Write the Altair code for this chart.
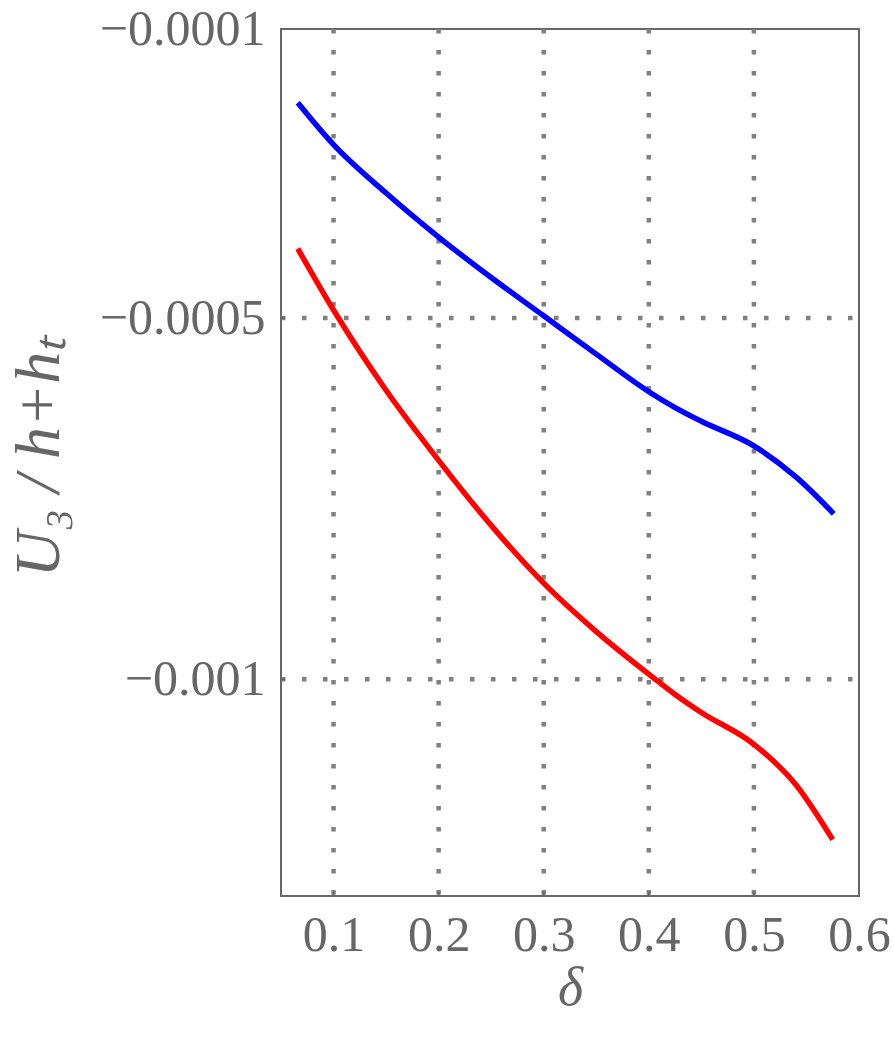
import altair as alt
import pandas as pd

# Data
delta_blue = [0.066, 0.1, 0.15, 0.2, 0.25, 0.3, 0.35, 0.4, 0.425, 0.45, 0.5, 0.54, 0.576]
u_blue = [-0.000202, -0.000260, -0.000327, -0.000388, -0.000444, -0.000497, -0.000550,
          -0.000602, -0.000624, -0.000643, -0.000677, -0.000720, -0.000771]

delta_red = [0.066, 0.1, 0.15, 0.2, 0.25, 0.3, 0.35, 0.4, 0.425, 0.45, 0.5, 0.54, 0.575]
u_red = [-0.000404, -0.000489, -0.000600, -0.000697, -0.000787, -0.000867, -0.000934,
         -0.000993, -0.001021, -0.001046, -0.001090, -0.001146, -0.001222]

x_ticks = [0.1, 0.2, 0.3, 0.4, 0.5, 0.6]
y_ticks = [-0.0001, -0.0005, -0.001]
x_inner_ticks = [0.1, 0.2, 0.3, 0.4, 0.5]
y_inner_ticks = [-0.0005, -0.001]

W, H = 578, 867
FONT = "Liberation Serif"
GRAY = "#666666"
GRID = "#808080"

df = pd.DataFrame({
    "delta": delta_blue + delta_red,
    "u": u_blue + u_red,
    "series": ["blue"] * len(delta_blue) + ["red"] * len(delta_red),
})

xscale = alt.Scale(domain=[0.05, 0.6], nice=False, zero=False)
yscale = alt.Scale(domain=[-0.0013, -0.0001], nice=False, zero=False)

xgrid = alt.Chart(pd.DataFrame({"t": x_inner_ticks})).mark_rule(
    color=GRID, strokeWidth=4.5, strokeDash=[4.5, 16.5]).encode(
    x=alt.X("t:Q", scale=xscale,
            axis=alt.Axis(values=x_ticks, format=".1f", title="δ", grid=False,
                          ticks=False, domain=False, labelPadding=14, labelFlush=False,
                          labelFont=FONT, labelFontSize=50, labelColor=GRAY,
                          titleFont=FONT, titleFontStyle="italic", titleFontWeight="normal",
                          titleFontSize=54, titleColor=GRAY, titleX=W / 2, titleY=92,
                          titleBaseline="middle", titleAlign="center")),
    y=alt.value(0), y2=alt.value(H))

ygrid = alt.Chart(pd.DataFrame({"t": y_inner_ticks})).mark_rule(
    color=GRID, strokeWidth=4.5, strokeDash=[4.5, 16.5]).encode(
    y=alt.Y("t:Q", scale=yscale,
            axis=alt.Axis(values=y_ticks, labelExpr="format(datum.value, '.4~f')",
                          title="U₃ / h+hₜ", grid=False,
                          ticks=False, domain=False, labelPadding=16, labelFlush=False,
                          labelFont=FONT, labelFontSize=50, labelColor=GRAY,
                          titleFont=FONT, titleFontStyle="italic", titleFontWeight="normal",
                          titleFontSize=64, titleColor=GRAY, titleX=-242, titleY=H / 2 - 6,
                          titleBaseline="middle", titleAlign="center", titleAngle=-90)),
    x=alt.value(0), x2=alt.value(W))

lines = alt.Chart(df).mark_line(strokeWidth=5.5, interpolate="monotone", clip=True).encode(
    x=alt.X("delta:Q", scale=xscale),
    y=alt.Y("u:Q", scale=yscale),
    color=alt.Color("series:N", scale=alt.Scale(domain=["blue", "red"], range=["#0000ff", "#ff0000"]),
                    legend=None),
    detail="series:N",
)

xt = alt.Chart(pd.DataFrame({"t": x_inner_ticks})).mark_rule(color=GRAY, strokeWidth=2).encode(
    x=alt.X("t:Q", scale=xscale), y=alt.value(H), y2=alt.value(H - 4))
yt = alt.Chart(pd.DataFrame({"t": y_inner_ticks})).mark_rule(color=GRAY, strokeWidth=2).encode(
    y=alt.Y("t:Q", scale=yscale), x=alt.value(0), x2=alt.value(4))

chart = alt.layer(xgrid, ygrid, lines, xt, yt).properties(
    width=W, height=H,
    autosize=alt.AutoSizeParams(type="none"),
    padding={"left": 281, "top": 29, "right": 35, "bottom": 147},
    background="white",
).configure_view(stroke=GRAY, strokeWidth=2)

chart.save("out.html", embed_options={"renderer": "svg", "actions": False})
